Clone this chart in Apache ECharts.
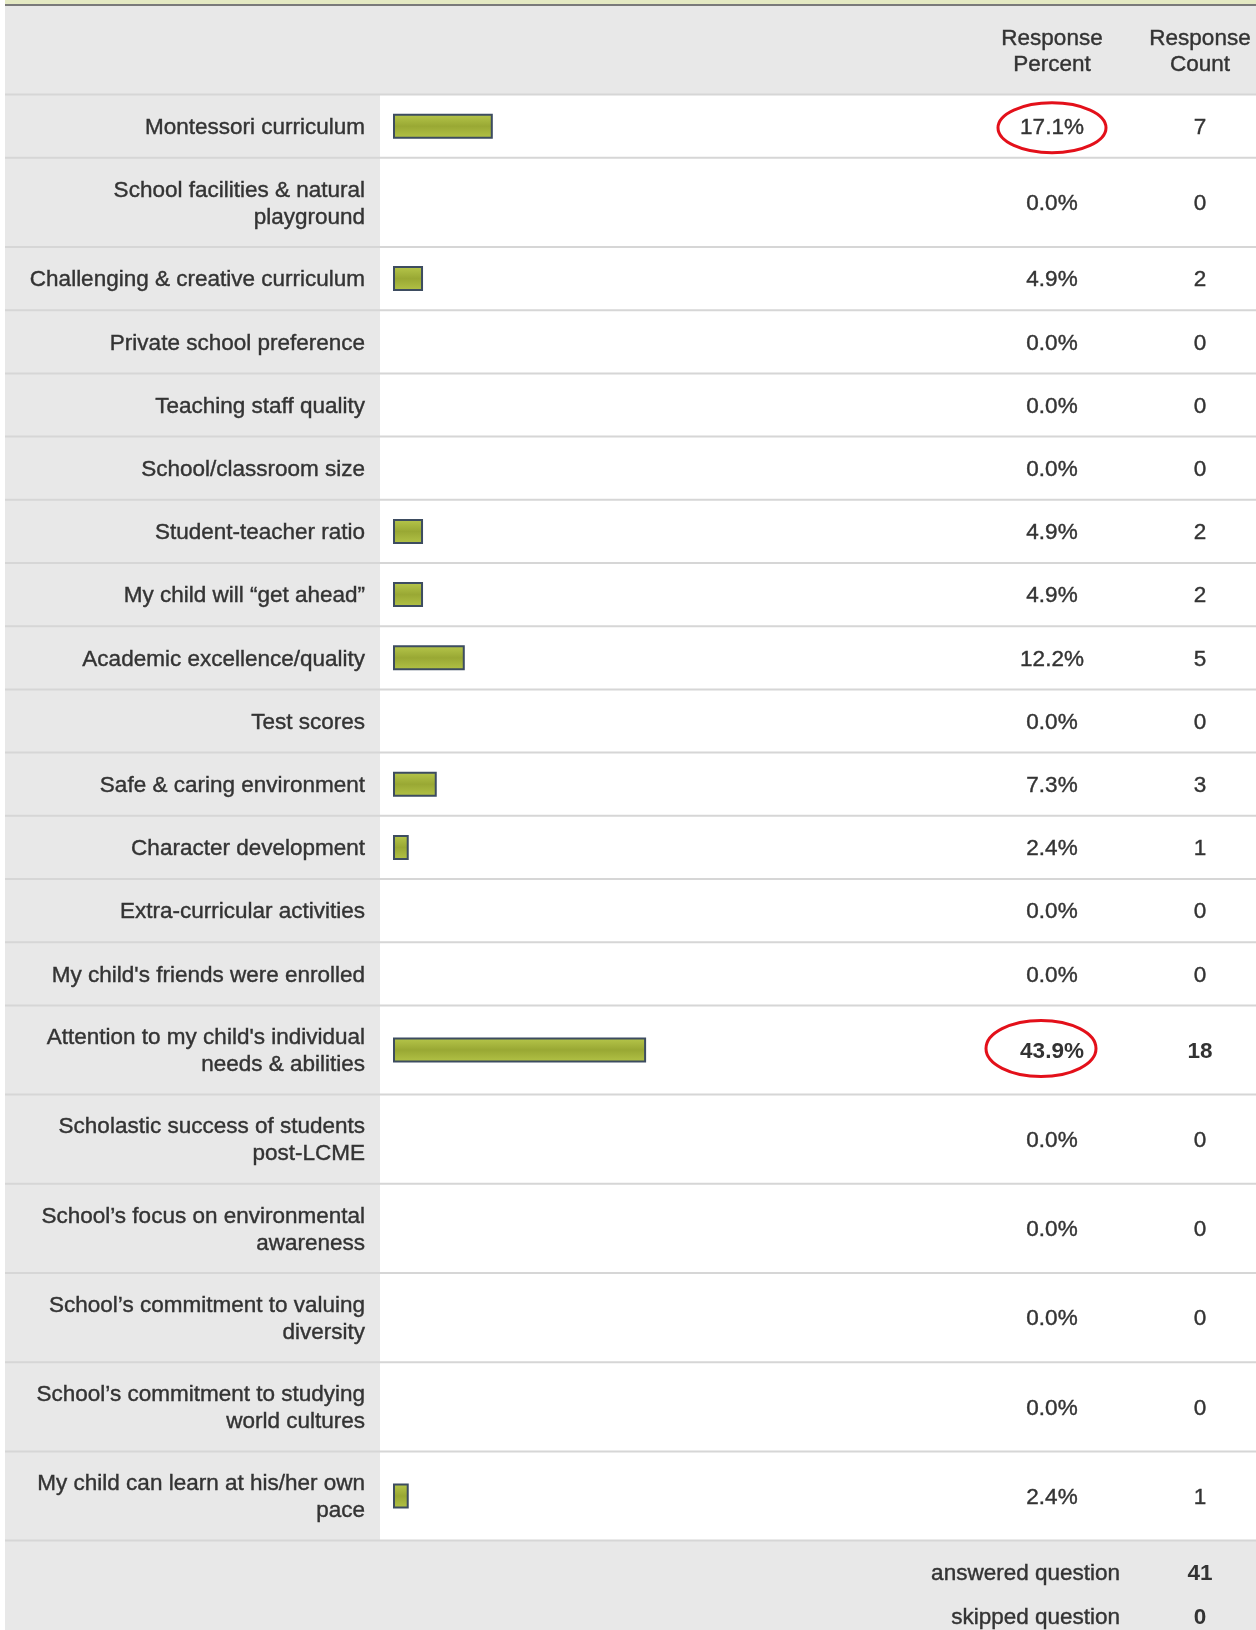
<!DOCTYPE html>
<html><head><meta charset="utf-8">
<script src="https://cdn.jsdelivr.net/npm/echarts@6/dist/echarts.min.js"></script>
<style>html,body{margin:0;padding:0;background:#fff}#c{width:1256px;height:1630px}</style>
</head><body><div id="c"></div>
<script>
// ---- DATA ----
const categories = [
  'Montessori curriculum',
  'School facilities & natural\nplayground',
  'Challenging & creative curriculum',
  'Private school preference',
  'Teaching staff quality',
  'School/classroom size',
  'Student-teacher ratio',
  'My child will \u201cget ahead\u201d',
  'Academic excellence/quality',
  'Test scores',
  'Safe & caring environment',
  'Character development',
  'Extra-curricular activities',
  "My child's friends were enrolled",
  "Attention to my child's individual\nneeds & abilities",
  'Scholastic success of students\npost-LCME',
  'School\u2019s focus on environmental\nawareness',
  'School\u2019s commitment to valuing\ndiversity',
  'School\u2019s commitment to studying\nworld cultures',
  'My child can learn at his/her own\npace'
];
const responsePercent = [17.1, 0.0, 4.9, 0.0, 0.0, 0.0, 4.9, 4.9, 12.2, 0.0, 7.3, 2.4, 0.0, 0.0, 43.9, 0.0, 0.0, 0.0, 0.0, 2.4];
const responseCount = [7, 0, 2, 0, 0, 0, 2, 2, 5, 0, 3, 1, 0, 0, 18, 0, 0, 0, 0, 1];
const columnHeaders = ['Response\nPercent', 'Response\nCount'];
const footerLabels = ['answered question', 'skipped question'];
const footerValues = [41, 0];
const circledRows = [0, 14];

// ---- LAYOUT ----
const L = {
  top: 94.6, single: 63.2, double: 89.2,
  barLeft: 394, barSpan: 572,
  labelRight: 365, pctX: 1052, cntX: 1200,
  colSplit: 380, edge: 5, W: 1256
};
const FONT = '22.5px "Liberation Sans", Arial, sans-serif';
const FONTB = 'bold 22.5px "Liberation Sans", Arial, sans-serif';
const TXT = '#333333';
const TB = 0.4;
const circleSpec = { 0: {dx: 0, dy: 0, rx: 54, ry: 25}, 14: {dx: -11, dy: -3, rx: 55, ry: 28} };

const rows = [];
let acc = 0;
categories.forEach((c, i) => {
  const h = c.indexOf('\n') >= 0 ? L.double : L.single;
  rows.push([responsePercent[i], acc + h / 2, acc, acc + h, i]);
  acc += h;
});
const total = acc;
const maxCount = Math.max(...responseCount);

const chart = echarts.init(document.getElementById('c'), null, {renderer: 'canvas'});
const barGrad = new echarts.graphic.LinearGradient(0, 0, 0, 1, [
  {offset: 0, color: '#b7c74b'}, {offset: 0.5, color: '#99a834'}, {offset: 1, color: '#b3c346'}
]);
function txt(x, y, text, opts) {
  return {type: 'text', z: 10, x: x, y: y, style: Object.assign({
    text: text, font: FONT, fill: TXT, verticalAlign: 'middle', stroke: TXT, lineWidth: TB
  }, opts || {})};
}

chart.setOption({
  animation: false,
  backgroundColor: '#ffffff',
  grid: {left: L.barLeft, top: L.top, width: L.barSpan, height: total},
  xAxis: {type: 'value', min: 0, max: 100, show: false},
  yAxis: {type: 'value', min: 0, max: total, inverse: true, show: false},
  graphic: [
    {type: 'rect', z: -10, shape: {x: L.edge, y: 0, width: L.W - L.edge, height: 4}, style: {fill: '#e4e9c3'}},
    {type: 'rect', z: -10, shape: {x: L.edge, y: 4, width: L.W - L.edge, height: 2}, style: {fill: '#7a7a7a'}},
    {type: 'rect', z: -10, shape: {x: L.edge, y: 6, width: L.W - L.edge, height: L.top - 6}, style: {fill: '#e8e8e8'}},
    {type: 'rect', z: -10, shape: {x: L.edge, y: L.top, width: L.colSplit - L.edge, height: total}, style: {fill: '#e8e8e8'}},
    {type: 'rect', z: -10, shape: {x: L.edge, y: L.top + total, width: L.W - L.edge, height: 1630 - L.top - total}, style: {fill: '#e8e8e8'}},
    txt(L.pctX, 51.5, columnHeaders[0], {align: 'center', lineHeight: 26}),
    txt(L.cntX, 51.5, columnHeaders[1], {align: 'center', lineHeight: 26}),
    txt(1120, L.top + total + 33, footerLabels[0], {align: 'right'}),
    txt(L.cntX, L.top + total + 33, String(footerValues[0]), {align: 'center', font: FONTB, lineWidth: 0}),
    txt(1120, L.top + total + 77, footerLabels[1], {align: 'right'}),
    txt(L.cntX, L.top + total + 77, String(footerValues[1]), {align: 'center', font: FONTB, lineWidth: 0})
  ],
  series: [{
    type: 'custom',
    data: rows,
    encode: {x: 0, y: 1},
    renderItem: function (params, api) {
      const pct = api.value(0), yc = api.value(1), y0 = api.value(2), y1 = api.value(3), i = api.value(4);
      const pTop = api.coord([0, y0])[1], pBot = api.coord([0, y1])[1];
      const a = api.coord([0, yc]), b = api.coord([pct, yc]);
      const mid = (pTop + pBot) / 2 + 1.5;
      const bold = responseCount[i] === maxCount;
      const ch = [];
      if (i === 0) ch.push({type: 'rect', shape: {x: L.edge, y: pTop - 1, width: L.W - L.edge, height: 2}, style: {fill: '#d6d6d6'}});
      ch.push({type: 'rect', shape: {x: L.edge, y: pBot - 1, width: L.W - L.edge, height: 2}, style: {fill: '#d6d6d6'}});
      ch.push(txt(L.labelRight, mid, categories[i], {align: 'right', lineHeight: 27}));
      if (pct > 0) {
        ch.push({type: 'rect', shape: {x: a[0], y: a[1] - 11.5, width: b[0] - a[0], height: 23},
          style: {fill: barGrad, stroke: '#3d4c60', lineWidth: 2}});
      }
      const bo = bold ? {font: FONTB, lineWidth: 0} : {};
      ch.push(txt(L.pctX, mid, responsePercent[i].toFixed(1) + '%', Object.assign({align: 'center'}, bo)));
      ch.push(txt(L.cntX, mid, String(responseCount[i]), Object.assign({align: 'center'}, bo)));
      if (circledRows.indexOf(i) >= 0) {
        const s = circleSpec[i];
        ch.push({type: 'ellipse', shape: {cx: L.pctX + s.dx, cy: mid + s.dy, rx: s.rx, ry: s.ry},
          style: {fill: 'none', stroke: '#e3101a', lineWidth: 3}});
      }
      return {type: 'group', children: ch};
    }
  }]
});
</script>
</body></html>
